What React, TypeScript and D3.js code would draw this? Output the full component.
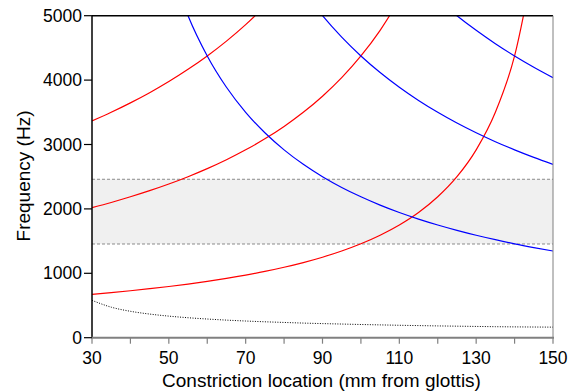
import React from "react";
import * as d3 from "d3";

const xs = [30, 35, 40, 45, 50, 55, 60, 65, 70, 75, 80, 85, 90, 95, 100, 105, 110, 115, 120, 125, 130, 135, 140, 145, 150];

const red1 = [673, 700, 729, 761, 795, 833, 875, 921, 972, 1029, 1094, 1167, 1250, 1346, 1458, 1591, 1750, 1944, 2188, 2500, 2917, 3500, 4375, 5833, null];
const red2 = [2019, 2100, 2188, 2283, 2386, 2500, 2625, 2763, 2917, 3088, 3281, 3500, 3750, 4038, 4375, 4773, 5250, null, null, null, null, null, null, null, null];
const red3 = [3365, 3500, 3646, 3804, 3977, 4167, 4375, 4605, 4861, 5147, null, null, null, null, null, null, null, null, null, null, null, null, null, null, null];
const blue1 = [null, null, null, null, 5833, 5000, 4375, 3889, 3500, 3182, 2917, 2692, 2500, 2333, 2188, 2059, 1944, 1842, 1750, 1667, 1591, 1522, 1458, 1400, 1346];
const blue2 = [null, null, null, null, null, null, null, null, null, null, null, 5385, 5000, 4667, 4375, 4118, 3889, 3684, 3500, 3333, 3182, 3043, 2917, 2800, 2692];
const blue3 = [null, null, null, null, null, null, null, null, null, null, null, null, null, null, null, null, null, null, 5250, 5000, 4773, 4565, 4375, 4200, 4038];
const helmholtz = [580, 474, 410, 367, 335, 310, 290, 273, 259, 247, 237, 227, 219, 212, 205, 199, 193, 188, 183, 179, 175, 171, 168, 166, 164];

const bandLow = 1455;
const bandHigh = 2460;

const xTicksMajor = [30, 50, 70, 90, 110, 130, 150];
const xTicksMinor = [40, 60, 80, 100, 120, 140];
const yTicks = [0, 1000, 2000, 3000, 4000, 5000];

const W = 572, H = 391;
const L = 92, R = 553, T = 15.7, B = 337.7;
const FONT = "'Liberation Sans', Arial, sans-serif";

export default function App() {
  const x = d3.scaleLinear().domain([30, 150]).range([L, R]);
  const y = d3.scaleLinear().domain([0, 5000]).range([B, T]);

  const line = (vals: (number | null)[]) =>
    d3.line<number>()
      .defined((_, i) => vals[i] != null)
      .x((_, i) => x(xs[i]))
      .y((_, i) => y(vals[i] as number))
      .curve(d3.curveMonotoneX)(xs) || "";

  const reds = [red1, red2, red3];
  const blues = [blue1, blue2, blue3];

  return (
    <svg width={W} height={H} style={{ position: "absolute", left: 0, top: 0, background: "#fff" }}>
      <defs>
        <clipPath id="plot">
          <rect x={L} y={T} width={R - L} height={B - T} />
        </clipPath>
      </defs>
      <rect x={0} y={0} width={W} height={H} fill="#fff" />
      <rect x={L} y={y(bandHigh)} width={R - L} height={y(bandLow) - y(bandHigh)} fill="#f0f0f0" />
      <line x1={L} x2={R} y1={y(bandHigh)} y2={y(bandHigh)} stroke="#8a8a8a" strokeWidth={1} strokeDasharray="3,2" />
      <line x1={L} x2={R} y1={y(bandLow)} y2={y(bandLow)} stroke="#8a8a8a" strokeWidth={1} strokeDasharray="3,2" />
      <g clipPath="url(#plot)" fill="none">
        {reds.map((v, i) => (
          <path key={"r" + i} d={line(v)} stroke="#ff0000" strokeWidth={1.2} />
        ))}
        {blues.map((v, i) => (
          <path key={"b" + i} d={line(v)} stroke="#0000ff" strokeWidth={1.2} />
        ))}
        <path d={line(helmholtz)} stroke="#000" strokeWidth={1} strokeDasharray="1,1.5" />
      </g>
      {/* frame */}
      <line x1={L} x2={R} y1={T} y2={T} stroke="#000" strokeWidth={1.5} />
      <line x1={R} x2={R} y1={T} y2={B} stroke="#808080" strokeWidth={1} />
      <line x1={L} x2={L} y1={T} y2={B} stroke="#000" strokeWidth={1.5} />
      <line x1={L - 1} x2={R + 1} y1={B} y2={B} stroke="#808080" strokeWidth={2} />
      {/* y ticks */}
      {yTicks.map((t) => (
        <g key={"y" + t}>
          <line x1={L - 8} x2={L} y1={y(t)} y2={y(t)} stroke="#000" strokeWidth={1.2} />
          <text x={L - 10} y={y(t)} dy="0.35em" textAnchor="end" fontFamily={FONT} fontSize={17.5} fill="#000">{t}</text>
        </g>
      ))}
      {/* x ticks */}
      {xTicksMajor.concat(xTicksMinor).map((t) => (
        <line key={"xt" + t} x1={x(t)} x2={x(t)} y1={B} y2={B + 6} stroke="#808080" strokeWidth={1.2} />
      ))}
      {xTicksMajor.map((t) => (
        <text key={"xl" + t} x={x(t)} y={364} textAnchor="middle" fontFamily={FONT} fontSize={17.5} fill="#000">{t}</text>
      ))}
      <text x={321.5} y={387} textAnchor="middle" fontFamily={FONT} fontSize={19} fill="#000">Constriction location (mm from glottis)</text>
      <text transform={`translate(29.5,176) rotate(-90)`} textAnchor="middle" fontFamily={FONT} fontSize={19} fill="#000">Frequency (Hz)</text>
    </svg>
  );
}
